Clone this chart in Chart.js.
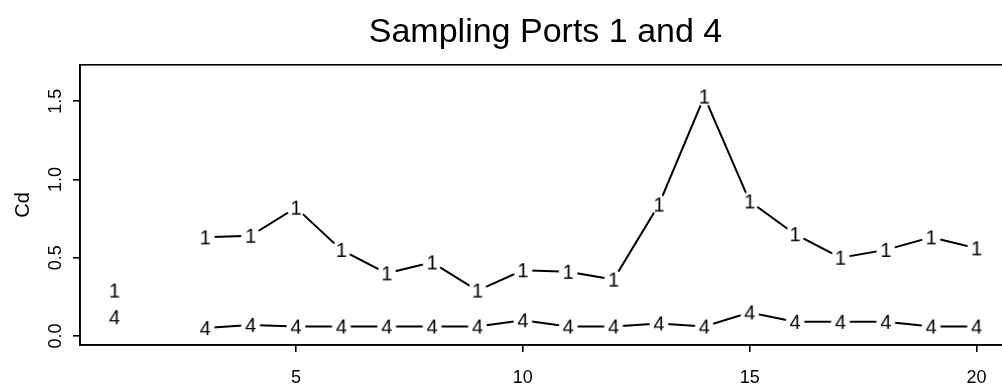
<!DOCTYPE html>
<html>
<head>
<meta charset="utf-8">
<script src="https://cdn.jsdelivr.net/npm/chart.js@4/dist/chart.umd.min.js"></script>
<style>
  html, body { margin: 0; padding: 0; background: #fff; overflow: hidden; }
  #wrap { width: 1011px; height: 390px; }
</style>
</head>
<body>
<div id="wrap"><canvas id="graphs" width="1011" height="390"></canvas></div>
<script>
// sample number and Cd at the two ports
const samples = [3, 4, 5, 6, 7, 8, 9, 10, 11, 12, 13, 14, 15, 16, 17, 18, 19, 20];
const port1 = [0.63, 0.64, 0.82, 0.55, 0.40, 0.47, 0.29, 0.42, 0.41, 0.36, 0.84, 1.53, 0.86, 0.65, 0.50, 0.55, 0.63, 0.56];
const port4 = [0.05, 0.07, 0.06, 0.06, 0.06, 0.06, 0.06, 0.10, 0.06, 0.06, 0.08, 0.06, 0.15, 0.09, 0.09, 0.09, 0.06, 0.06];

// key in the lower left corner
const keyX = [1];
const keyPort1 = [0.29];
const keyPort4 = [0.12];

const xTicks = [5, 10, 15, 20];
const yTicks = [0.0, 0.5, 1.0, 1.5];

const FONT = '"Liberation Sans", Arial, Helvetica, sans-serif';

// plot character with a white patch behind it so the line stops short of it
function digitMark(ch, gap) {
  const c = document.createElement('canvas');
  c.width = 26;
  c.height = 26;
  const g = c.getContext('2d');
  if (gap) {
    g.fillStyle = '#fff';
    g.beginPath();
    g.arc(13, 13, 9.5, 0, Math.PI * 2);
    g.fill();
  }
  g.fillStyle = '#000';
  g.font = '20px ' + FONT;
  g.textAlign = 'center';
  g.textBaseline = 'middle';
  g.fillText(ch, 13, 14);
  return c;
}

const pts = (xs, ys) => xs.map((x, i) => ({x: x, y: ys[i]}));

const boxPlugin = {
  id: 'box',
  afterDraw(chart) {
    const a = chart.chartArea;
    const ctx = chart.ctx;
    ctx.save();
    ctx.strokeStyle = '#000';
    ctx.lineWidth = 1.6;
    ctx.strokeRect(a.left, a.top, a.right - a.left, a.bottom - a.top);
    ctx.restore();
  }
};

let config = {
  type: 'line',
  data: {
    datasets: [
      {
        label: '1',
        data: pts(samples, port1),
        borderColor: '#000',
        borderWidth: 2,
        pointStyle: digitMark('1', true),
        tension: 0
      },
      {
        label: '4',
        data: pts(samples, port4),
        borderColor: '#000',
        borderWidth: 2,
        pointStyle: digitMark('4', true),
        tension: 0
      },
      {
        label: 'key 1',
        data: pts(keyX, keyPort1),
        showLine: false,
        pointStyle: digitMark('1', false)
      },
      {
        label: 'key 4',
        data: pts(keyX, keyPort4),
        showLine: false,
        pointStyle: digitMark('4', false)
      }
    ]
  },
  options: {
    responsive: false,
    animation: false,
    layout: { padding: 0, autoPadding: false },
    plugins: {
      legend: { display: false },
      tooltip: { enabled: false },
      title: {
        display: true,
        fullSize: false,
        text: 'Sampling Ports 1 and 4',
        color: '#000',
        font: { family: FONT, size: 34, weight: 'normal' },
        padding: { top: 12, bottom: 12 }
      }
    },
    scales: {
      x: {
        type: 'linear',
        min: 0.24,
        max: 20.76,
        afterBuildTicks: s => { s.ticks = xTicks.map(v => ({value: v})); },
        afterFit: s => { s.height = 45; },
        grid: { drawOnChartArea: false, drawTicks: true, tickLength: 7, color: '#000', lineWidth: 1.6 },
        border: { display: true, color: '#000', width: 1.6 },
        ticks: {
          color: '#000',
          font: { family: FONT, size: 18 },
          padding: 15,
          maxRotation: 0,
          callback: v => String(v)
        }
      },
      y: {
        type: 'linear',
        min: -0.058,
        max: 1.733,
        afterBuildTicks: s => { s.ticks = yTicks.map(v => ({value: v})); },
        afterFit: s => { s.width = 80; },
        grid: { drawOnChartArea: false, drawTicks: true, tickLength: 7, color: '#000', lineWidth: 1.6 },
        border: { display: true, color: '#000', width: 1.6 },
        ticks: {
          color: '#000',
          font: { family: FONT, size: 18 },
          minRotation: 90,
          maxRotation: 90,
          crossAlign: 'center',
          padding: 4,
          callback: v => Number(v).toFixed(1)
        },
        title: {
          display: true,
          text: 'Cd',
          color: '#000',
          font: { family: FONT, size: 20 },
          padding: { top: 11, bottom: 0 }
        }
      }
    }
  },
  plugins: [boxPlugin]
};

window.onload = function() {
  let ctx = document.querySelector('#graphs').getContext('2d');
  window.cdChart = new Chart(ctx, config);
};
</script>
</body>
</html>
